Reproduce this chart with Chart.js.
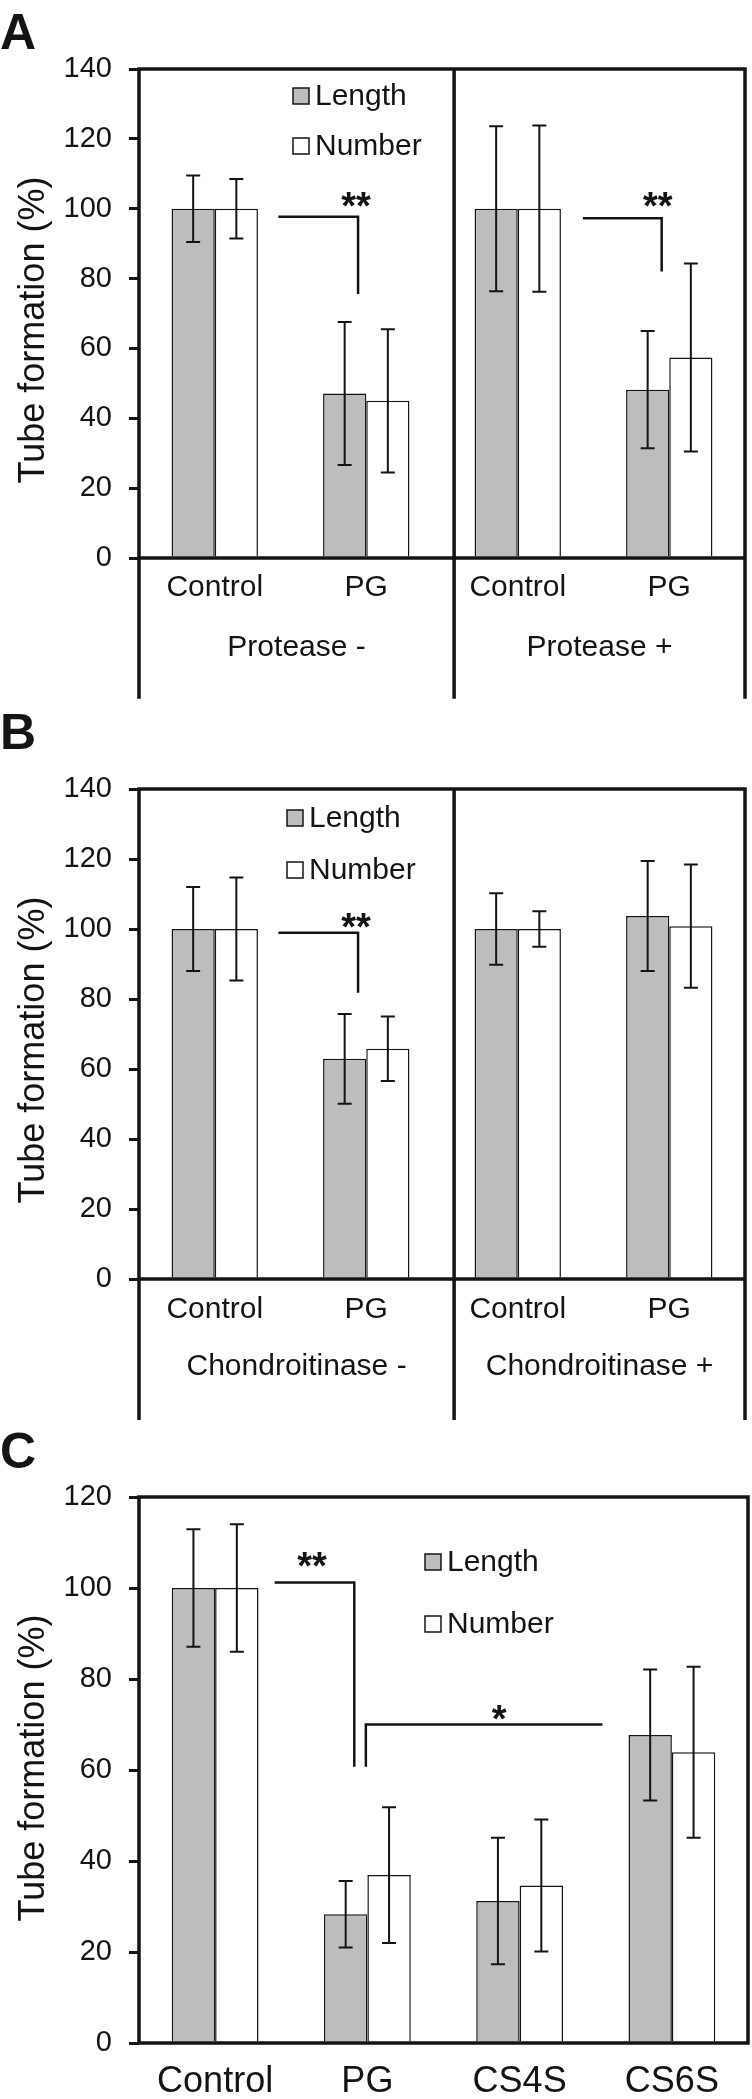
<!DOCTYPE html>
<html>
<head>
<meta charset="utf-8">
<script src="https://cdn.jsdelivr.net/npm/chart.js@4.4.1/dist/chart.umd.min.js"></script>
<style>
  html, body { margin: 0; padding: 0; background: #fff; }
  body { width: 752px; height: 2099px; position: relative; overflow: hidden; }
  .panel { position: absolute; left: 0; width: 752px; }
  #panelA { top: 0; height: 700px; }
  #panelB { top: 700px; height: 720px; }
  #panelC { top: 1420px; height: 679px; }
</style>
</head>
<body>
<div class="panel" id="panelA"><canvas id="chartA"></canvas></div>
<div class="panel" id="panelB"><canvas id="chartB"></canvas></div>
<div class="panel" id="panelC"><canvas id="chartC"></canvas></div>
<script>
'use strict';

// DATA
const seriesNames = ['Length', 'Number'];

// A - protease
const categoriesA = ['Control', 'PG', 'Control', 'PG'];
const groupsA = ['Protease -', 'Protease +'];
const lengthA = [100, 47.1, 100, 48.2];
const lengthErrA = [9.5, 20.5, 23.6, 16.8];
const numberA = [100, 45.0, 100, 57.4];
const numberErrA = [8.5, 20.5, 23.8, 26.9];

// B - chondroitinase
const categoriesB = ['Control', 'PG', 'Control', 'PG'];
const groupsB = ['Chondroitinase -', 'Chondroitinase +'];
const lengthB = [100, 62.9, 100, 103.7];
const lengthErrB = [12.0, 12.8, 10.2, 15.7];
const numberB = [100, 65.8, 100, 100.8];
const numberErrB = [14.7, 9.2, 5.1, 17.6];

// C - CS subtypes
const categoriesC = ['Control', 'PG', 'CS4S', 'CS6S'];
const lengthC = [100, 28.3, 31.2, 67.7];
const lengthErrC = [12.9, 7.3, 13.9, 14.4];
const numberC = [100, 36.9, 34.6, 63.9];
const numberErrC = [14.0, 14.9, 14.5, 18.8];

// y ticks
const ticksAB = [0, 20, 40, 60, 80, 100, 120, 140];
const ticksC = [0, 20, 40, 60, 80, 100, 120];

// significance brackets, [category index, value] points
const sigA = [
  { pts: [[0.42, 97.7], [0.946, 97.7], [0.946, 75.6]], text: '**', at: [0.933, 102.6] },
  { pts: [[2.43, 97.3], [2.95, 97.3], [2.95, 82.0]], text: '**', at: [2.924, 102.6] },
];
const sigB = [
  { pts: [[0.42, 98.9], [0.946, 98.9], [0.946, 81.8]], text: '**', at: [0.933, 102.5] },
];
const sigC = [
  { pts: [[0.391, 101.2], [0.914, 101.2], [0.914, 60.7]], text: '**', at: [0.636, 106.3] },
  { pts: [[0.99, 60.7], [0.99, 70.0], [2.544, 70.0]], text: '*', at: [1.866, 72.6] },
];

const INK = '#141414';
const GREY = '#bdbdbd';
const FONT = "'Liberation Sans', Arial, sans-serif";

// draws error bars, frame, brackets, legend, group labels, letters
const decor = {
  id: 'decor',
  afterDatasetsDraw(chart, args, o) {
    const { ctx, chartArea: a, scales: { x, y } } = chart;
    ctx.save();

    // error bars
    ctx.strokeStyle = INK;
    ctx.lineWidth = 2;
    chart.data.datasets.forEach((ds, i) => {
      chart.getDatasetMeta(i).data.forEach((bar, j) => {
        const t = y.getPixelForValue(ds.data[j] + ds.errors[j]);
        const b = y.getPixelForValue(ds.data[j] - ds.errors[j]);
        ctx.beginPath();
        ctx.moveTo(bar.x, t); ctx.lineTo(bar.x, b);
        ctx.moveTo(bar.x - 7, t); ctx.lineTo(bar.x + 7, t);
        ctx.moveTo(bar.x - 7, b); ctx.lineTo(bar.x + 7, b);
        ctx.stroke();
      });
    });

    // frame
    ctx.lineWidth = 3.5;
    ctx.lineCap = 'square';
    ctx.beginPath();
    ctx.moveTo(a.left, a.top); ctx.lineTo(a.right, a.top);
    ctx.moveTo(a.left, a.top); ctx.lineTo(a.left, o.frameBottom);
    ctx.moveTo(a.right, a.top); ctx.lineTo(a.right, o.frameBottom);
    ctx.moveTo(a.left, a.bottom); ctx.lineTo(a.right, a.bottom);
    (o.dividers || []).forEach(d => {
      const px = x.getPixelForValue(d);
      ctx.moveTo(px, a.top); ctx.lineTo(px, o.frameBottom);
    });
    ctx.stroke();

    // brackets
    ctx.lineWidth = 2.5;
    ctx.lineCap = 'butt';
    ctx.fillStyle = INK;
    ctx.font = 'bold 38px ' + FONT;
    ctx.textAlign = 'center';
    ctx.textBaseline = 'alphabetic';
    o.sig.forEach(s => {
      ctx.beginPath();
      s.pts.forEach((p, k) => {
        const px = x.getPixelForValue(p[0]), py = y.getPixelForValue(p[1]);
        if (k === 0) ctx.moveTo(px, py); else ctx.lineTo(px, py);
      });
      ctx.stroke();
      const m = ctx.measureText(s.text);
      const cy = y.getPixelForValue(s.at[1]);
      ctx.fillText(s.text, x.getPixelForValue(s.at[0]),
        cy + (m.actualBoundingBoxAscent - m.actualBoundingBoxDescent) / 2);
    });

    // legend
    ctx.font = '30px ' + FONT;
    ctx.textAlign = 'left';
    ctx.textBaseline = 'middle';
    chart.data.datasets.forEach((ds, i) => {
      const cy = o.legend.y + i * o.legend.gap;
      ctx.fillStyle = ds.backgroundColor;
      ctx.fillRect(o.legend.x, cy - 8, 16, 16);
      ctx.lineWidth = 1.5;
      ctx.strokeRect(o.legend.x, cy - 8, 16, 16);
      ctx.fillStyle = INK;
      ctx.fillText(ds.label, o.legend.x + 22, cy + 1);
    });

    // group labels
    ctx.textAlign = 'center';
    (o.groups || []).forEach((g, i) => {
      const l = i === 0 ? a.left : x.getPixelForValue(o.dividers[i - 1]);
      const r = i === o.groups.length - 1 ? a.right : x.getPixelForValue(o.dividers[i]);
      ctx.fillText(g, (l + r) / 2, a.bottom + o.groupDy);
    });

    // y title
    ctx.save();
    ctx.translate(o.titleX, o.titleY);
    ctx.rotate(-Math.PI / 2);
    ctx.font = '36px ' + FONT;
    ctx.fillText('Tube formation (%)', 0, 0);
    ctx.restore();

    // panel letter
    ctx.font = 'bold 50px ' + FONT;
    ctx.textAlign = 'left';
    const lm = ctx.measureText(o.letter);
    ctx.fillText(o.letter, 0, o.letterY + (lm.actualBoundingBoxAscent - lm.actualBoundingBoxDescent) / 2);

    ctx.restore();
  },
};

function makeChart(id, cats, len, lenErr, num, numErr, ticks, opt) {
  return new Chart(document.getElementById(id), {
    type: 'bar',
    data: {
      labels: cats,
      datasets: [
        { label: seriesNames[0], data: len, errors: lenErr, backgroundColor: GREY },
        { label: seriesNames[1], data: num, errors: numErr, backgroundColor: '#ffffff' },
      ],
    },
    options: {
      responsive: true,
      maintainAspectRatio: false,
      animation: false,
      devicePixelRatio: 1,
      layout: { padding: { top: opt.top, right: opt.right, left: 0, bottom: 0 } },
      datasets: {
        bar: {
          borderColor: INK,
          borderWidth: 1.5,
          categoryPercentage: 0.57,
          barPercentage: 1.0,
        },
      },
      scales: {
        x: {
          afterFit: s => { s.height = opt.xHeight; },
          grid: { display: false, drawTicks: false },
          border: { display: false },
          ticks: {
            color: INK,
            font: { family: FONT, size: opt.xFont },
            padding: opt.xPad,
            autoSkip: false,
            maxRotation: 0,
          },
        },
        y: {
          min: 0,
          max: ticks[ticks.length - 1],
          afterFit: s => { s.width = 139; },
          afterBuildTicks: s => { s.ticks = ticks.map(v => ({ value: v })); },
          grid: { drawOnChartArea: false, drawTicks: true, tickLength: 10, lineWidth: 3, color: INK },
          border: { display: false },
          ticks: { color: INK, font: { family: FONT, size: 29 }, padding: 17 },
        },
      },
      plugins: {
        legend: { display: false },
        tooltip: { enabled: false },
        decor: opt.decor,
      },
    },
    plugins: [decor],
  });
}

makeChart('chartA', categoriesA, lengthA, lengthErrA, numberA, numberErrA, ticksAB, {
  top: 69, right: 7, xHeight: 142, xFont: 30, xPad: 12,
  decor: {
    frameBottom: 697, dividers: [1.58], groups: groupsA, groupDy: 90, sig: sigA,
    legend: { x: 293, y: 96, gap: 50 }, titleX: 34, titleY: 330, letter: 'A', letterY: 31,
  },
});

makeChart('chartB', categoriesB, lengthB, lengthErrB, numberB, numberErrB, ticksAB, {
  top: 89, right: 7, xHeight: 141, xFont: 30, xPad: 13,
  decor: {
    frameBottom: 719, dividers: [1.58], groups: groupsB, groupDy: 88, sig: sigB,
    legend: { x: 287, y: 118, gap: 52 }, titleX: 34, titleY: 350, letter: 'B', letterY: 31,
  },
});

makeChart('chartC', categoriesC, lengthC, lengthErrC, numberC, numberErrC, ticksC, {
  top: 77, right: 4, xHeight: 56, xFont: 36, xPad: 17,
  decor: {
    frameBottom: 623, dividers: [], groups: [], groupDy: 0, sig: sigC,
    legend: { x: 425, y: 142, gap: 62 }, titleX: 34, titleY: 348, letter: 'C', letterY: 30,
  },
});
</script>
</body>
</html>
